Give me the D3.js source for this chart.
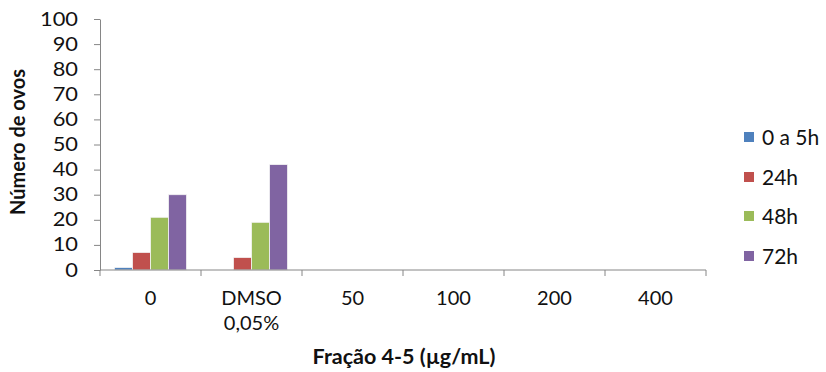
<!DOCTYPE html>
<html>
<head>
<meta charset="utf-8">
<script src="https://cdn.jsdelivr.net/npm/d3@7"></script>
<style>
  html, body { margin: 0; padding: 0; background: #fff; }
  svg { display: block; font-family: Lato, "Open Sans", sans-serif; }
</style>
</head>
<body>
<svg id="chart" width="826" height="372"></svg>
<script>
// Egg counts per treatment and observation time
const categories = ["0", "DMSO\n0,05%", "50", "100", "200", "400"];
const seriesNames = ["0 a 5h", "24h", "48h", "72h"];
const seriesColors = ["#4F81BD", "#C0504D", "#9BBB59", "#8064A2"];
const values0a5h = [1, 0, 0, 0, 0, 0];
const values24h  = [7, 5, 0, 0, 0, 0];
const values48h  = [21, 19, 0, 0, 0, 0];
const values72h  = [30, 42, 0, 0, 0, 0];
const yTicks = [0, 10, 20, 30, 40, 50, 60, 70, 80, 90, 100];

const seriesValues = [values0a5h, values24h, values48h, values72h];

const svg = d3.select("#chart");
const plotLeft = 100, plotRight = 706, plotTop = 19, plotBottom = 270;
const axisColor = "#868686";
const textColor = "#111";
const fontFamily = "Lato, 'Open Sans', sans-serif";

const x0 = d3.scaleBand().domain(d3.range(categories.length)).range([plotLeft, plotRight]).padding(0);
const x1 = d3.scaleBand().domain(d3.range(seriesNames.length))
  .range([x0.bandwidth() * 0.143, x0.bandwidth() * 0.857]).padding(0);
const y = d3.scaleLinear().domain([0, 100]).range([plotBottom, plotTop]);

// Bars
const groups = svg.append("g").selectAll("g")
  .data(categories.map((c, i) => i))
  .join("g")
  .attr("transform", i => `translate(${x0(i)},0)`);

groups.selectAll("rect")
  .data(i => seriesValues.map((vals, s) => ({ s, v: vals[i] })).filter(d => d.v > 0))
  .join("rect")
  .attr("x", d => x1(d.s))
  .attr("y", d => y(d.v))
  .attr("width", x1.bandwidth())
  .attr("height", d => y(0) - y(d.v))
  .attr("fill", d => seriesColors[d.s])
  .attr("stroke", "#f4f4f4")
  .attr("stroke-width", 0.8);

// Y axis (labels slightly widened)
const yAxis = svg.append("g")
  .attr("transform", `translate(${plotLeft},0)`)
  .call(d3.axisLeft(y).tickValues(yTicks).tickSize(6).tickPadding(16).tickSizeOuter(0));
yAxis.select(".domain").attr("stroke", axisColor);
yAxis.selectAll(".tick line").attr("stroke", axisColor);
yAxis.selectAll(".tick text")
  .attr("x", 0)
  .attr("transform", "translate(-22,0) scale(1.15,1)")
  .attr("fill", textColor)
  .style("font-size", "19px")
  .style("font-family", fontFamily);

// X axis line with boundary ticks
const xAxis = svg.append("g").attr("transform", `translate(0,${plotBottom})`);
xAxis.append("line").attr("x1", plotLeft).attr("x2", plotRight).attr("stroke", axisColor);
xAxis.selectAll("line.tk")
  .data(d3.range(categories.length + 1))
  .join("line")
  .attr("class", "tk")
  .attr("x1", i => plotLeft + i * x0.step())
  .attr("x2", i => plotLeft + i * x0.step())
  .attr("y1", 0).attr("y2", 6)
  .attr("stroke", axisColor);

// Category labels
const catLabels = xAxis.selectAll("text.cat")
  .data(categories)
  .join("text")
  .attr("class", "cat")
  .attr("x", (d, i) => x0(i) + x0.bandwidth() / 2)
  .attr("y", 35)
  .attr("text-anchor", "middle")
  .attr("fill", textColor)
  .style("font-size", "20px");
catLabels.selectAll("tspan")
  .data(d => d.split("\n"))
  .join("tspan")
  .attr("x", function () { return d3.select(this.parentNode).attr("x"); })
  .attr("dy", (d, i) => i === 0 ? 0 : 25)
  .text(d => d);

// Axis titles
svg.append("text")
  .attr("x", 404)
  .attr("y", 364)
  .attr("text-anchor", "middle")
  .attr("font-weight", "bold")
  .attr("fill", textColor)
  .style("font-size", "21.5px")
  .text("Fração 4-5 (µg/mL)");

svg.append("text")
  .attr("transform", "translate(25,142) rotate(-90)")
  .attr("text-anchor", "middle")
  .attr("font-weight", "bold")
  .attr("fill", textColor)
  .style("font-size", "20px")
  .text("Número de ovos");

// Legend
const legendY = [137, 177, 216, 256];
const legend = svg.append("g").selectAll("g")
  .data(seriesNames)
  .join("g")
  .attr("transform", (d, i) => `translate(744,${legendY[i]})`);
legend.append("rect")
  .attr("x", 0).attr("y", -5).attr("width", 10).attr("height", 10)
  .attr("fill", (d, i) => seriesColors[i]);
legend.append("text")
  .attr("x", 18).attr("y", 7.5)
  .attr("fill", textColor)
  .style("font-size", "21px")
  .text(d => d);
</script>
</body>
</html>
